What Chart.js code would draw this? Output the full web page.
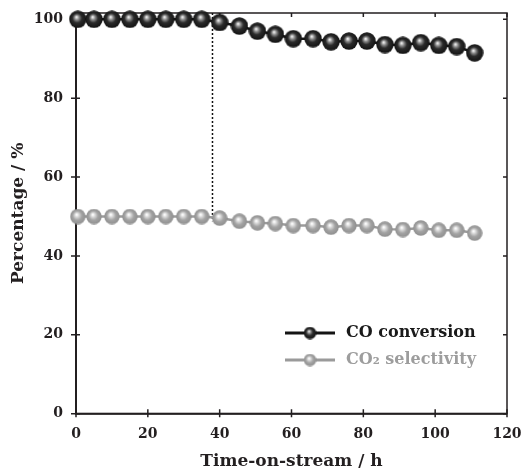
<!DOCTYPE html>
<html>
<head>
<meta charset="utf-8">
<script src="https://cdn.jsdelivr.net/npm/chart.js@4/dist/chart.umd.min.js"></script>
<style>
  html, body { margin: 0; padding: 0; background: #fff; }
  canvas { display: block; }
</style>
</head>
<body>
<canvas id="chart" width="528" height="473"></canvas>
<script>
// values
const times = [0.5, 5, 10, 15, 20, 25, 30, 35, 40, 45.5, 50.5, 55.5, 60.5, 66, 71, 76, 81, 86, 91, 96, 101, 106, 111];
const coConversion = [100, 100, 100, 100, 100, 100, 100, 100, 99.2, 98.3, 97.0, 96.2, 95.1, 95.1, 94.3, 94.5, 94.5, 93.6, 93.4, 94.1, 93.4, 93.1, 91.5];
const co2Selectivity = [50, 50, 50, 50, 50, 50, 50, 50, 49.6, 48.8, 48.4, 48.2, 47.7, 47.7, 47.3, 47.7, 47.7, 46.8, 46.7, 47.1, 46.5, 46.5, 45.8];
const xTicks = [0, 20, 40, 60, 80, 100, 120];
const yTicks = [0, 20, 40, 60, 80, 100];
const markerTime = 38;
const markerSpan = [101.6, 48.8];

const axisColor = "#231f20";

function makeBall(size, stops){
    const c = document.createElement("canvas");
    c.width = size;
    c.height = size;
    const g = c.getContext("2d");
    const r = size / 2;
    const grad = g.createRadialGradient(r * 0.85, r * 0.75, r * 0.05, r, r, r);
    stops.forEach(s => grad.addColorStop(s[0], s[1]));
    g.fillStyle = grad;
    g.beginPath();
    g.arc(r, r, r - 0.3, 0, Math.PI * 2);
    g.fill();
    return c;
}

const blackStops = [[0, "#eeeeee"], [0.22, "#8a8a8a"], [0.5, "#2b2b2b"], [1, "#111111"]];
const grayStops = [[0, "#ffffff"], [0.25, "#d4d4d4"], [0.55, "#a3a3a3"], [1, "#8e8e8e"]];
const blackBall = makeBall(18, blackStops);
const grayBall = makeBall(16, grayStops);
const blackBallSmall = makeBall(13, blackStops);
const grayBallSmall = makeBall(13, grayStops);

function toPoints(xs, ys){
    return xs.map((x, i) => ({x: x, y: ys[i]}));
}

// frame and crossing tick marks
const framePlugin = {
    id: "frame",
    beforeDatasetsDraw(chart){
        const ctx = chart.ctx;
        const a = chart.chartArea;
        const xs = chart.scales.x;
        const ys = chart.scales.y;
        ctx.save();
        ctx.strokeStyle = axisColor;
        ctx.lineWidth = 1.5;
        ctx.strokeRect(a.left, a.top, a.right - a.left, a.bottom - a.top);
        ctx.lineWidth = 2;
        ctx.beginPath();
        ctx.moveTo(a.left, a.top);
        ctx.lineTo(a.left, a.bottom);
        ctx.lineTo(a.right, a.bottom);
        ctx.stroke();
        ctx.lineWidth = 1.5;
        ctx.beginPath();
        xTicks.forEach(v => {
            const px = xs.getPixelForValue(v);
            ctx.moveTo(px, a.bottom - 4.5);
            ctx.lineTo(px, a.bottom + 3.5);
            ctx.moveTo(px, a.top);
            ctx.lineTo(px, a.top + 4);
        });
        yTicks.forEach(v => {
            const py = ys.getPixelForValue(v);
            ctx.moveTo(a.left - 5, py);
            ctx.lineTo(a.left + 4, py);
            ctx.moveTo(a.right, py);
            ctx.lineTo(a.right - 4, py);
        });
        ctx.stroke();
        ctx.restore();
    }
};

// legend: line sample with ball, then label
const legendPlugin = {
    id: "ballLegend",
    afterDraw(chart){
        const ctx = chart.ctx;
        const items = [
            {ds: chart.data.datasets[0], ball: blackBallSmall, text: "#1a1a1a"},
            {ds: chart.data.datasets[1], ball: grayBallSmall, text: "#9d9d9d"}
        ];
        const x0 = 285, x1 = 335, y0 = 333, rowH = 27;
        ctx.save();
        items.forEach((it, i) => {
            const y = y0 + i * rowH;
            ctx.strokeStyle = it.ds.borderColor;
            ctx.lineWidth = 3;
            ctx.beginPath();
            ctx.moveTo(x0, y);
            ctx.lineTo(x1, y);
            ctx.stroke();
            const b = it.ball;
            ctx.drawImage(b, (x0 + x1) / 2 - b.width / 2, y - b.height / 2);
            ctx.fillStyle = it.text;
            ctx.font = "bold 16px 'DejaVu Serif'";
            ctx.textBaseline = "middle";
            ctx.fillText(it.ds.label, 346, y);
        });
        ctx.restore();
    }
};

Chart.defaults.font.family = "'DejaVu Serif', serif";
Chart.defaults.font.weight = "bold";
Chart.defaults.color = axisColor;

new Chart(document.getElementById("chart"), {
    type: "scatter",
    data: {
        datasets: [{
            label: "CO conversion",
            data: toPoints(times, coConversion),
            showLine: true,
            borderColor: "#141414",
            borderWidth: 2.5,
            pointStyle: blackBall,
            pointRadius: 8,
            clip: false,
            order: 1
        }, {
            label: "CO\u2082 selectivity",
            data: toPoints(times, co2Selectivity),
            showLine: true,
            borderColor: "#9a9a9a",
            borderWidth: 2.5,
            pointStyle: grayBall,
            pointRadius: 8,
            clip: false,
            order: 2
        }, {
            label: "",
            data: toPoints([markerTime, markerTime], markerSpan),
            showLine: true,
            borderColor: "#111",
            borderWidth: 1.5,
            borderDash: [2, 2],
            pointRadius: 0,
            order: 3
        }]
    },
    options: {
        responsive: false,
        animation: false,
        layout: {
            padding: {left: 0, top: 13, right: 21, bottom: 0}
        },
        plugins: {
            legend: {display: false},
            tooltip: {enabled: false}
        },
        scales: {
            x: {
                type: "linear",
                min: 0,
                max: 120,
                afterBuildTicks: (scale) => { scale.ticks = xTicks.map(v => ({value: v})); },
                afterFit: (scale) => {
                    scale.height = 59.3;
                    scale.paddingLeft = 0;
                    scale.paddingRight = 0;
                },
                grid: {display: false, drawTicks: false},
                border: {display: false},
                ticks: {
                    padding: 12,
                    maxRotation: 0,
                    font: {size: 14, weight: "bold"}
                },
                title: {
                    display: true,
                    text: "Time-on-stream / h",
                    font: {size: 17, weight: "bold"},
                    padding: {top: 1, bottom: 1}
                }
            },
            y: {
                type: "linear",
                min: 0,
                max: 101.6,
                afterBuildTicks: (scale) => { scale.ticks = yTicks.map(v => ({value: v})); },
                afterFit: (scale) => {
                    scale.width = 76;
                    scale.paddingTop = 0;
                    scale.paddingBottom = 0;
                },
                grid: {display: false, drawTicks: false},
                border: {display: false},
                ticks: {
                    padding: 13,
                    font: {size: 14, weight: "bold"}
                },
                title: {
                    display: true,
                    text: "Percentage / %",
                    font: {size: 17, weight: "bold"},
                    padding: {top: 8, bottom: 0}
                }
            }
        }
    },
    plugins: [framePlugin, legendPlugin]
});
</script>
</body>
</html>
